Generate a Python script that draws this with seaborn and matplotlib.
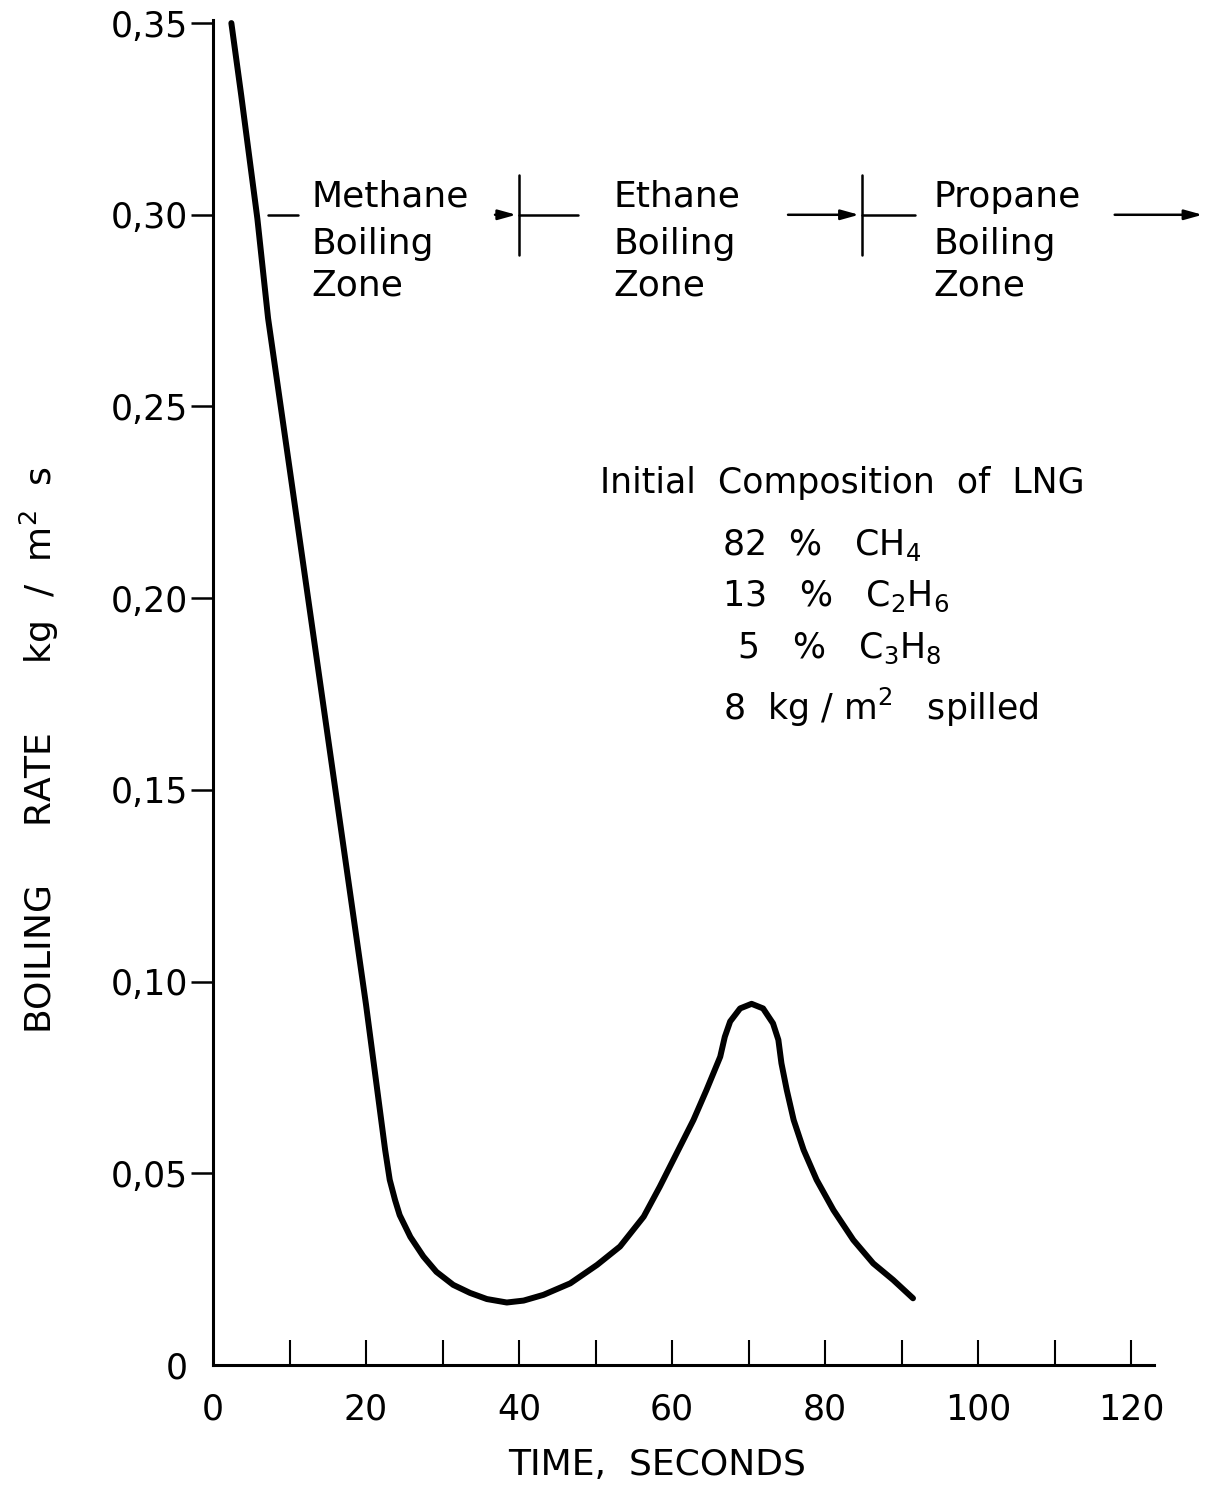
import matplotlib
matplotlib.use("Agg")
import matplotlib.pyplot as plt
import seaborn as sns
import pandas as pd

# ---- data ----
time_s = [2.4, 3.7, 5.8, 7.2, 10.0, 12.5, 15.0, 17.5, 20.0, 22.5, 23.1, 23.8,
          24.4, 25.8, 27.5, 29.2, 31.4, 33.6, 35.8, 38.4, 40.6, 43.2, 46.7,
          50.2, 53.2, 56.3, 58.4, 60.6, 62.8, 64.5, 66.3, 66.9, 67.6, 68.9,
          70.4, 71.9, 73.2, 73.9, 74.3, 75.0, 75.9, 77.2, 78.9, 81.1, 83.7,
          86.3, 88.9, 91.5]
boil_rate = [0.350, 0.331, 0.299, 0.273, 0.234, 0.199, 0.164, 0.129, 0.094,
             0.0561, 0.0483, 0.0430, 0.0391, 0.0334, 0.0283, 0.0243, 0.0209,
             0.0188, 0.0172, 0.0163, 0.0168, 0.0183, 0.0213, 0.0261, 0.0309,
             0.0387, 0.0465, 0.0552, 0.0639, 0.0717, 0.0804, 0.0856, 0.0896,
             0.0930, 0.0942, 0.0930, 0.0891, 0.0848, 0.0787, 0.0717, 0.0639,
             0.0561, 0.0483, 0.0404, 0.0326, 0.0265, 0.0222, 0.0174]

x_major = [0, 20, 40, 60, 80, 100, 120]
x_minor = [10, 30, 50, 70, 90, 110]
y_ticks = [0, 0.05, 0.10, 0.15, 0.20, 0.25, 0.30, 0.35]
y_labels = ["0", "0,05", "0,10", "0,15", "0,20", "0,25", "0,30", "0,35"]

zone_names = ["Methane", "Ethane", "Propane"]
zone_x = [12.9, 52.3, 94.2]
zone_bounds = [40, 84.8]

comp_lines = ["Initial  Composition  of  LNG",
              "82  %   CH$_4$",
              "13   %   C$_2$H$_6$",
              "5   %   C$_3$H$_8$",
              "8  kg / m$^2$   spilled"]
comp_x = [50.6, 66.5, 66.5, 68.5, 66.6]
comp_y = [0.230, 0.214, 0.2005, 0.187, 0.1715]

sns.set_theme(style="white")
plt.rcParams["font.family"] = ["DejaVu Sans"]
plt.rcParams["text.color"] = "black"
plt.rcParams["axes.labelcolor"] = "black"
plt.rcParams["xtick.color"] = "black"
plt.rcParams["ytick.color"] = "black"

fig = plt.figure(figsize=(12.13, 14.86), dpi=100)
ax = fig.add_axes([213/1213, 1 - 1365/1486, 941/1213, 1345/1486])

df = pd.DataFrame({"time": time_s, "rate": boil_rate})
sns.lineplot(data=df, x="time", y="rate", sort=False, color="black",
             linewidth=4.3, ax=ax, clip_on=False,
             solid_joinstyle="round", solid_capstyle="round")

ax.set_xlim(0, 123)
ax.set_ylim(0, 0.3508)

for s in ["top", "right"]:
    ax.spines[s].set_visible(False)
for s in ["left", "bottom"]:
    ax.spines[s].set_color("black")
    ax.spines[s].set_linewidth(2.2)

ax.set_xticks(x_major)
ax.set_xticks(x_minor, minor=True)
ax.tick_params(axis="x", which="both", direction="in", length=18, width=1.5,
               color="black", pad=20, labelsize=25, bottom=True,
               labelcolor="black")
ax.xaxis.get_major_ticks()[0].tick1line.set_visible(False)

ax.set_yticks(y_ticks)
ax.set_yticklabels(y_labels)
ax.tick_params(axis="y", which="major", direction="out", length=16, width=1.8,
               color="black", pad=2, labelsize=25, left=True,
               labelcolor="black")
ax.yaxis.get_major_ticks()[0].tick1line.set_visible(False)

ax.set_xlabel("TIME,  SECONDS", fontsize=26, color="black")
ax.xaxis.set_label_coords(0.472, -0.062)
ax.xaxis.label.set_va("top")
ax.set_ylabel("BOILING     RATE      kg  /  m$^2$  s", fontsize=26,
              color="black")
ax.yaxis.set_label_coords(-0.162, 0.457)

# zone labels
line_y = [0.3047, 0.2925, 0.2815]
for name, zx in zip(zone_names, zone_x):
    for txt, yy in zip([name, "Boiling", "Zone"], line_y):
        ax.text(zx, yy, txt, fontsize=26, va="center", ha="left",
                color="black")

lw = 1.8
arrow_style = "-|>,head_length=0.9,head_width=0.25"
ax.plot([7.2, 11.1], [0.30, 0.30], color="black", lw=lw)
ax.annotate("", xy=(zone_bounds[0], 0.30), xytext=(36.5, 0.30),
            arrowprops=dict(arrowstyle=arrow_style, color="black", lw=lw))
ax.plot([zone_bounds[0], 47.7], [0.30, 0.30], color="black", lw=lw)
ax.annotate("", xy=(zone_bounds[1], 0.30), xytext=(74.8, 0.30),
            arrowprops=dict(arrowstyle=arrow_style, color="black", lw=lw))
ax.plot([zone_bounds[1], 91.8], [0.30, 0.30], color="black", lw=lw)
ax.annotate("", xy=(129.7, 0.30), xytext=(117.5, 0.30),
            arrowprops=dict(arrowstyle=arrow_style, color="black", lw=lw),
            annotation_clip=False)
for b in zone_bounds:
    ax.plot([b, b], [0.2895, 0.3105], color="black", lw=lw)

# composition block
for txt, cx, cy in zip(comp_lines, comp_x, comp_y):
    ax.text(cx, cy, txt, fontsize=25, va="center", ha="left", color="black")

fig.savefig("out.png", dpi=100, facecolor="white")
